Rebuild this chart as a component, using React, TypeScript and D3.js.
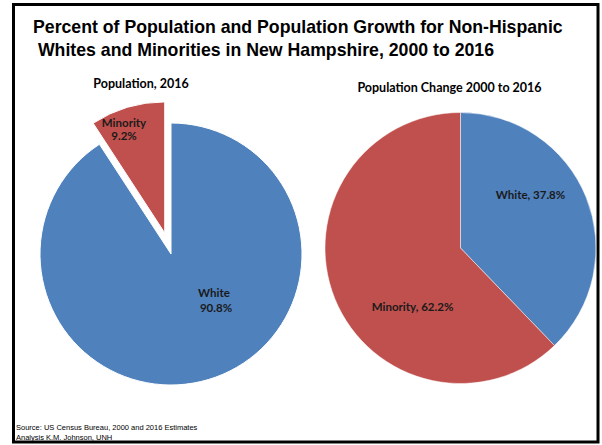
import React from "react";
import * as d3 from "d3";

const titleLines = [
  "Percent of Population and Population Growth for Non-Hispanic",
  " Whites and Minorities in New Hampshire, 2000 to 2016",
];
const pieTitles = ["Population, 2016", "Population Change 2000 to 2016"];
const categories = ["White", "Minority"];
const pop2016 = [90.8, 9.2];
const change = [37.8, 62.2];
const colors = ["#4F81BD", "#C0504D"];
const sourceLines = [
  "Source: US Census Bureau, 2000 and 2016 Estimates",
  "Analysis K.M. Johnson, UNH",
];

export default function App() {
  const W = 602, H = 445;
  const pie = d3.pie<number>().sort(null).startAngle(0).endAngle(2 * Math.PI);

  const leftC = { x: 171, y: 254, r: 131 };
  const rightC = { x: 460.5, y: 248, r: 135.5 };
  const leftArcs = pie(pop2016);
  const rightArcs = pie(change);
  const arcL = d3.arc<d3.PieArcDatum<number>>().innerRadius(0).outerRadius(leftC.r);
  const arcR = d3.arc<d3.PieArcDatum<number>>().innerRadius(0).outerRadius(rightC.r);
  const explode = 22;

  const labelFont = "Lato, 'Open Sans', sans-serif";
  const lfs = 11.5;

  return (
    <div style={{ position: "absolute", left: 0, top: 0 }}>
      <svg width={W} height={H} style={{ display: "block" }}>
        <rect x={0} y={0} width={W} height={H} fill="#fff" />
        <rect x={13.5} y={4.5} width={584.5} height={437.5} fill="none" stroke="#000" strokeWidth={3} />
        {titleLines.map((t, i) => (
          <text key={i} x={33} y={33 + i * 23} fontFamily="'Liberation Sans', Arial, sans-serif"
            fontWeight="bold" fontSize={17.7} fill="#000" style={{ whiteSpace: "pre" }}>{t}</text>
        ))}
        <text x={141} y={88} textAnchor="middle" fontFamily={labelFont} fontWeight="bold" fontSize={12.5} fill="#000">{pieTitles[0]}</text>
        <text x={449.5} y={92} textAnchor="middle" fontFamily={labelFont} fontWeight="bold" fontSize={12.5} fill="#000">{pieTitles[1]}</text>

        <g transform={`translate(${leftC.x},${leftC.y})`}>
          {leftArcs.map((a, i) => {
            const mid = (a.startAngle + a.endAngle) / 2;
            const off = i === 1 ? explode : 0;
            const dx = Math.sin(mid) * off, dy = -Math.cos(mid) * off;
            return (
              <path key={i} d={arcL(a) || ""} fill={colors[i]} stroke="#fff" strokeWidth={1}
                transform={`translate(${dx},${dy})`} />
            );
          })}
          <text x={-47} y={-127} textAnchor="middle" fontFamily={labelFont} fontWeight="bold" fontSize={lfs} fill="#1a1a1a">{categories[1]}</text>
          <text x={-47} y={-114} textAnchor="middle" fontFamily={labelFont} fontWeight="bold" fontSize={lfs} fill="#1a1a1a">{pop2016[1].toFixed(1)}%</text>
          <text x={43} y={43} textAnchor="middle" fontFamily={labelFont} fontWeight="bold" fontSize={lfs} fill="#1a1a1a">{categories[0]}</text>
          <text x={45} y={58} textAnchor="middle" fontFamily={labelFont} fontWeight="bold" fontSize={lfs} fill="#1a1a1a">{pop2016[0].toFixed(1)}%</text>
        </g>

        <g transform={`translate(${rightC.x},${rightC.y})`}>
          {rightArcs.map((a, i) => (
            <path key={i} d={arcR(a) || ""} fill={colors[i]} stroke="#fff" strokeWidth={0.5} />
          ))}
          <text x={70} y={-49} textAnchor="middle" fontFamily={labelFont} fontWeight="bold" fontSize={lfs} fill="#1a1a1a">{categories[0]}, {change[0].toFixed(1)}%</text>
          <text x={-48} y={63} textAnchor="middle" fontFamily={labelFont} fontWeight="bold" fontSize={lfs} fill="#1a1a1a">{categories[1]}, {change[1].toFixed(1)}%</text>
        </g>

        {sourceLines.map((t, i) => (
          <text key={i} x={16} y={430 + i * 10} fontFamily="'Liberation Sans', Arial, sans-serif" fontSize={7.5} fill="#000">{t}</text>
        ))}
      </svg>
    </div>
  );
}
